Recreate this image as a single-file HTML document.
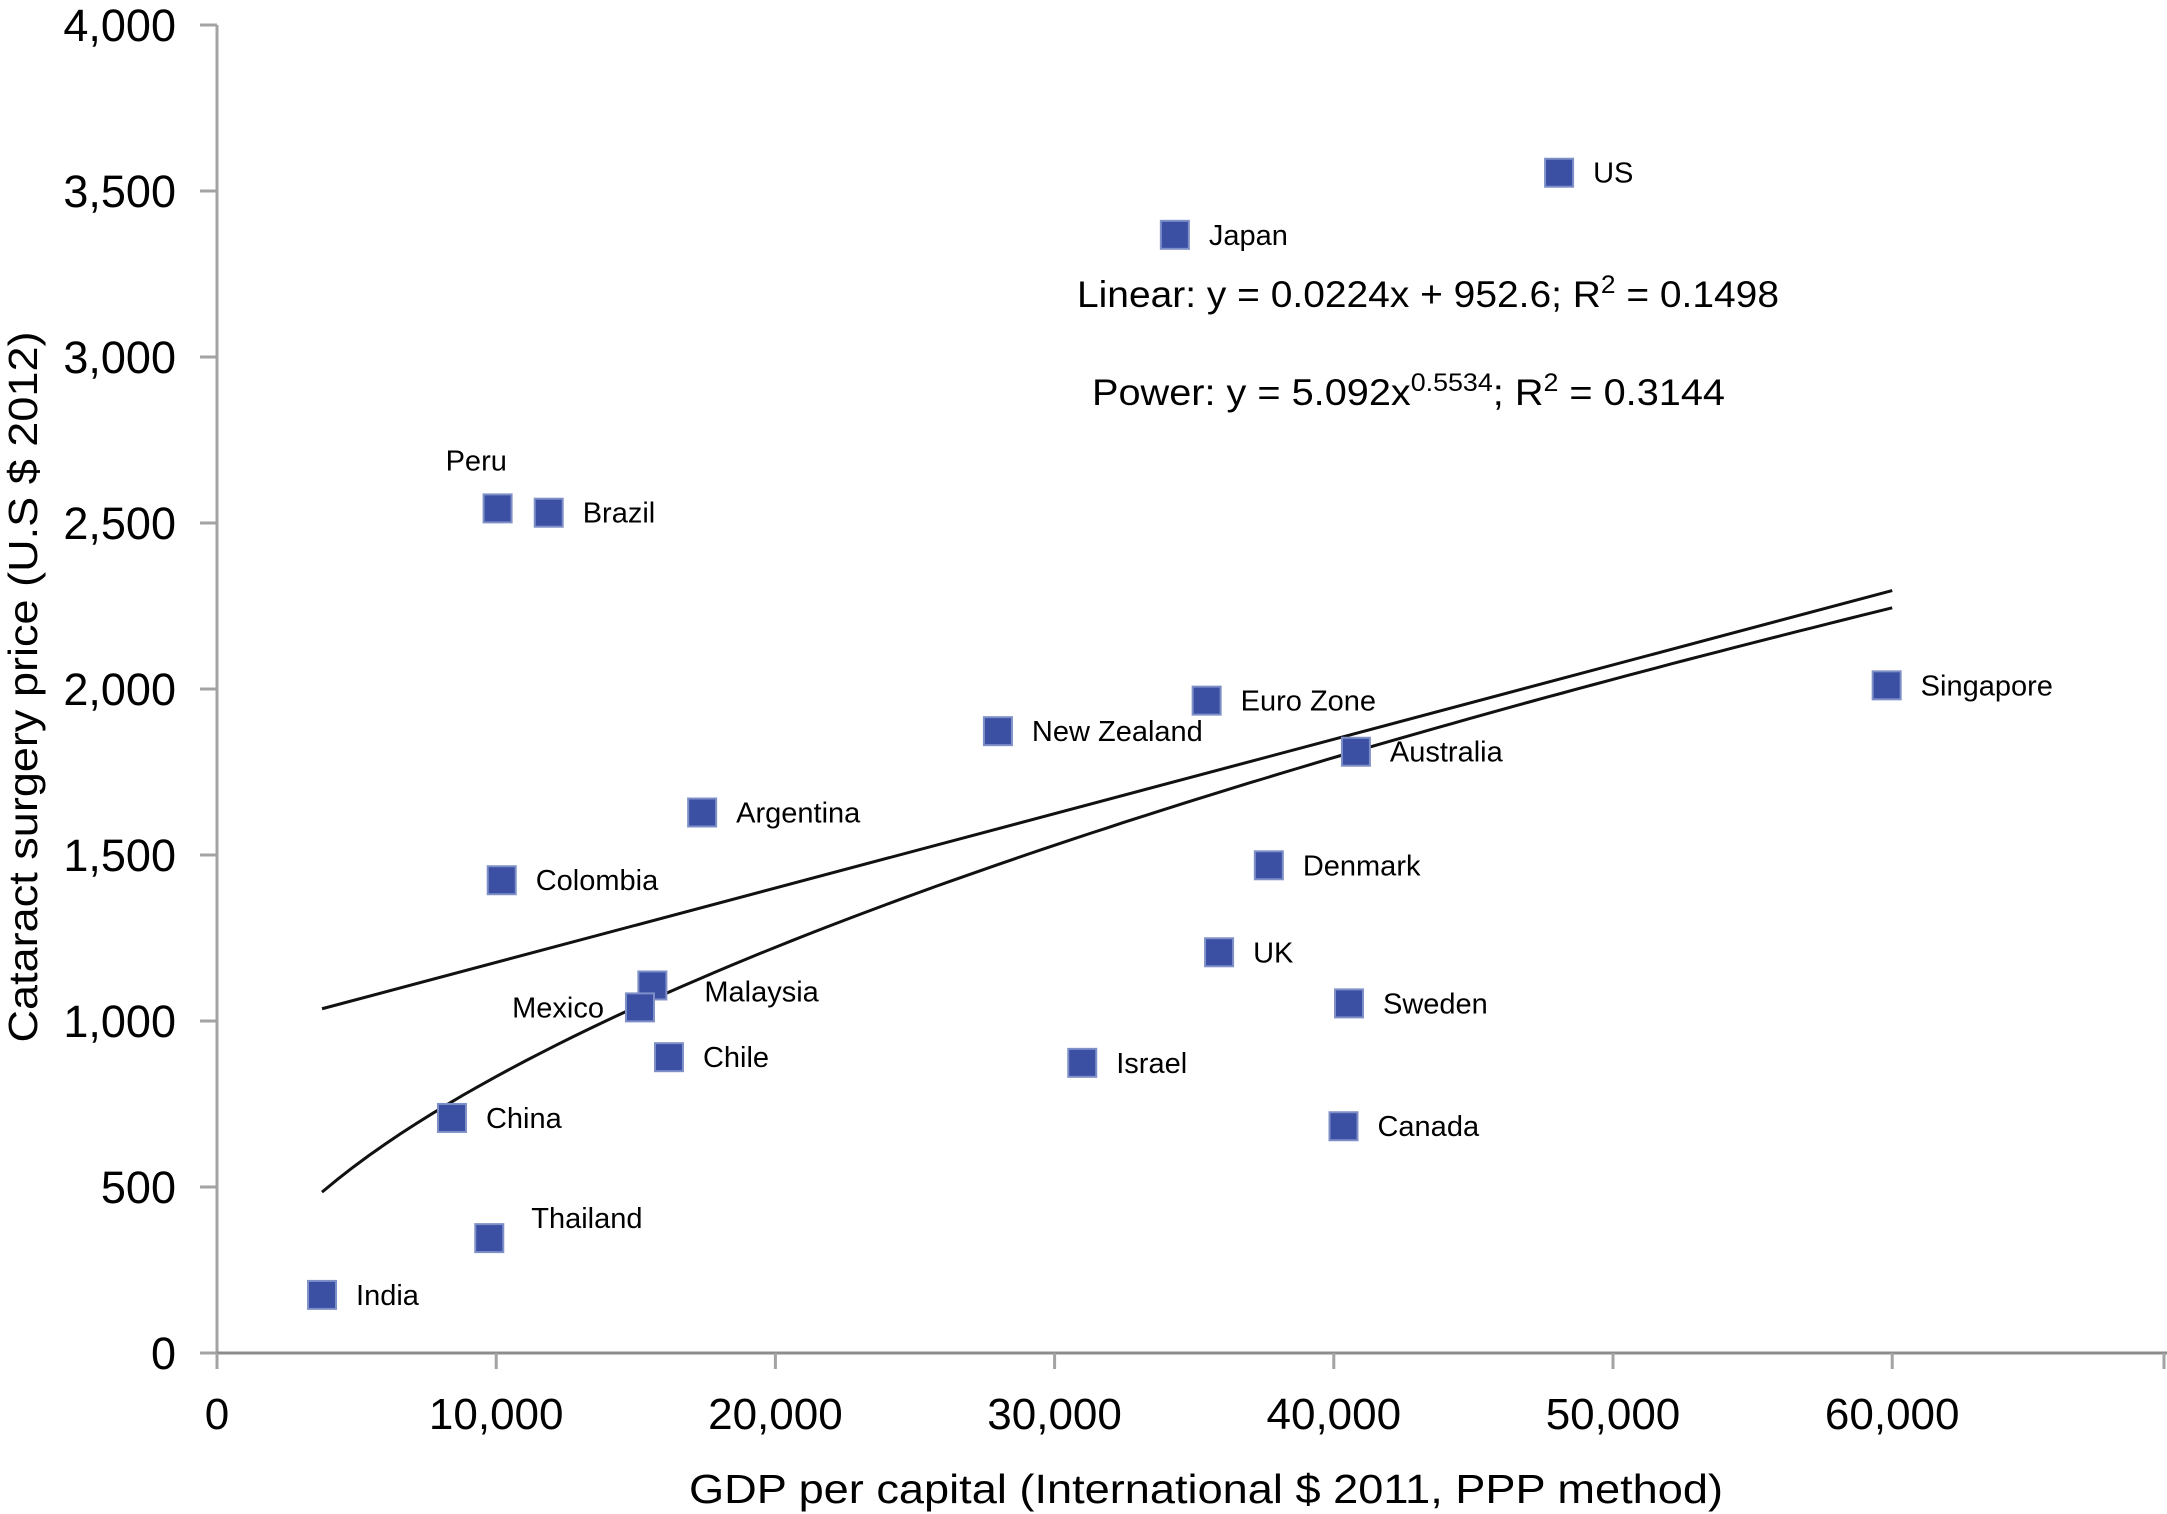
<!DOCTYPE html>
<html><head><meta charset="utf-8"><style>
html,body{margin:0;padding:0;background:#fff;}
svg{display:block;font-family:"Liberation Sans",Arial,sans-serif;}
</style></head><body>
<svg id="chart" width="2167" height="1514" viewBox="0 0 2167 1514" xmlns="http://www.w3.org/2000/svg">
<g id="axes"></g>
<g id="lines"></g>
<g id="points"></g>
<text x="1077" y="307" font-size="37" fill="#000" textLength="702" lengthAdjust="spacingAndGlyphs">Linear: y = 0.0224x + 952.6; R<tspan dy="-14" font-size="25">2</tspan><tspan dy="14"> = 0.1498</tspan></text>
<text x="1092" y="405" font-size="37" fill="#000" textLength="633" lengthAdjust="spacingAndGlyphs">Power: y = 5.092x<tspan dy="-14" font-size="25">0.5534</tspan><tspan dy="14">; R</tspan><tspan dy="-14" font-size="25">2</tspan><tspan dy="14"> = 0.3144</tspan></text>
<text x="1206" y="1503" font-size="41" text-anchor="middle" textLength="1034" lengthAdjust="spacingAndGlyphs">GDP per capital (International $ 2011, PPP method)</text>
<text transform="translate(37,687) rotate(-90)" font-size="41" text-anchor="middle" textLength="711" lengthAdjust="spacingAndGlyphs">Cataract surgery price (U.S $ 2012)</text>
</svg>
<script>
const countries = ["US","Japan","Peru","Brazil","Euro Zone","New Zealand","Singapore","Australia","Argentina","Colombia","Denmark","UK","Malaysia","Mexico","Sweden","Chile","Israel","Canada","China","Thailand","India"];
const gdp = [48069,34307,10050,11881,35446,27970,59802,40792,17376,10198,37673,35891,15594,15149,40545,16188,30990,40347,8416,9752,3762];
const price = [3555,3368,2544,2531,1965,1873,2011,1811,1628,1424,1469,1207,1107,1041,1053,891,874,683,708,346,175];
const xTicks = [0,10000,20000,30000,40000,50000,60000];
const yTicks = [0,500,1000,1500,2000,2500,3000,3500,4000];
const linSlope = 0.0224, linIntercept = 952.6;
const powCoef = 5.092, powExp = 0.5534;
const fitRange = [3762, 60000];
// label placement (style, not data)
const labelMode = {"Peru":"above","Mexico":"left","Thailand":"aboveRight","Malaysia":"farRight"};

const NS="http://www.w3.org/2000/svg";
const X0=217, XPER=279.2/10000, Y0=1353, YPER=332/1000;
const sx=v=>X0+v*XPER, sy=v=>Y0-v*YPER;
function mk(tag,attrs,parent,text){const e=document.createElementNS(NS,tag);for(const k in attrs)e.setAttribute(k,attrs[k]);if(text!==undefined)e.textContent=text;parent.appendChild(e);return e;}
const axes=document.getElementById('axes');
const ya=mk('line',{x1:X0,y1:sy(4000),x2:X0,y2:Y0,stroke:'#a3a3a3','stroke-width':3},axes);


const xa=mk('line',{x1:X0-16,y1:Y0,x2:2167,y2:Y0,stroke:'#8c8c8c','stroke-width':3},axes);


yTicks.forEach(v=>{
  const t=mk('line',{x1:X0-17,y1:sy(v),x2:X0,y2:sy(v),stroke:'#a3a3a3','stroke-width':3},axes);
  
  
  const l=mk('text',{x:176,y:sy(v)+16,'font-size':45,'text-anchor':'end'},axes,v.toLocaleString('en-US'));
  
  
});
xTicks.forEach(v=>{
  const t=mk('line',{x1:sx(v),y1:Y0,x2:sx(v),y2:Y0+16,stroke:'#a3a3a3','stroke-width':3},axes);
  
  
  const l=mk('text',{x:sx(v),y:1429,'font-size':44,'text-anchor':'middle'},axes,v.toLocaleString('en-US'));
  
  
});
mk('line',{x1:2164,y1:Y0,x2:2164,y2:Y0+16,stroke:'#a3a3a3','stroke-width':3},axes);
const lines=document.getElementById('lines');
const lin=mk('line',{x1:sx(fitRange[0]),y1:sy(linSlope*fitRange[0]+linIntercept),x2:sx(fitRange[1]),y2:sy(linSlope*fitRange[1]+linIntercept),stroke:'#111','stroke-width':3},lines);


let d='';
for(let i=0;i<=100;i++){const x=fitRange[0]+(fitRange[1]-fitRange[0])*i/100;const y=powCoef*Math.pow(x,powExp);d+=(i?'L':'M')+sx(x).toFixed(1)+','+sy(y).toFixed(1);}
const pw=mk('path',{d:d,fill:'none',stroke:'#111','stroke-width':3},lines);


const pts=document.getElementById('points');
countries.forEach((c,i)=>{
  const cx=sx(gdp[i]), cy=sy(price[i]);
  const r=mk('rect',{x:cx-14,y:cy-14,width:28,height:28,fill:'#3b4fa3',stroke:'#7f90c8','stroke-width':2},pts);
  
  
  let lx=cx+34, ly=cy+10, anchor='start';
  const m=labelMode[c];
  if(m==='above'){lx=cx-52;ly=cy-38;}
  if(m==='left'){lx=cx-36;anchor='end';}
  if(m==='aboveRight'){lx=cx+42;ly=cy-10;}
  if(m==='farRight'){lx=cx+52;ly=cy+16;}
  const t=mk('text',{x:lx,y:ly,'font-size':29,'text-anchor':anchor},pts,c);
  
  
});
</script>
</body></html>
